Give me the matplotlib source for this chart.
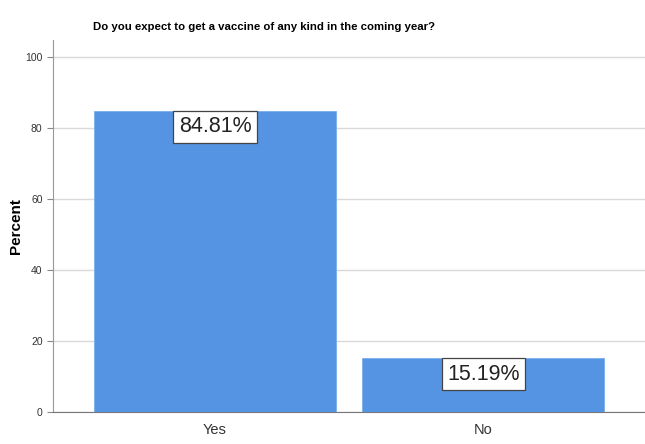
import matplotlib.pyplot as plt

categories = ['Yes', 'No']
percents = [84.81, 15.19]
labels = ['84.81%', '15.19%']
yticks = [0, 20, 40, 60, 80, 100]

plt.rcParams['font.family'] = ['Liberation Sans', 'DejaVu Sans']

fig = plt.figure(figsize=(6.45, 4.44), dpi=100)
ax = fig.add_axes([0.0822, 0.072, 0.918, 0.838])

x = range(len(categories))
ax.bar(x, percents, width=0.9, color='#5593E3', edgecolor='#7AAEEB', linewidth=0.6, zorder=3)

for xi, p, lab in zip(x, percents, labels):
    ax.annotate(lab, (xi, p), xytext=(0, -4), textcoords='offset points',
                ha='center', va='top', fontsize=15.5, color='#222222', zorder=5,
                bbox=dict(boxstyle='square,pad=0.25', fc='white', ec='#444444', lw=0.9))

ax.set_xlim(-0.604, 1.604)
ax.set_ylim(0, 104.8)
ax.set_yticks(yticks)
ax.set_xticks(list(x))
ax.set_xticklabels(categories, fontsize=10.5, color='#333333')
ax.tick_params(axis='y', labelsize=7.5, colors='#333333', length=4, color='#888888', width=0.8)
ax.tick_params(axis='x', length=0, pad=8)
ax.yaxis.grid(True, color='#d9d9d9', linewidth=1.0, zorder=0)
ax.set_axisbelow(True)

for s in ['top', 'right']:
    ax.spines[s].set_visible(False)
ax.spines['left'].set_color('#999999')
ax.spines['bottom'].set_color('#777777')

ax.set_ylabel('Percent', fontsize=11, fontweight='bold')
ax.yaxis.set_label_coords(-0.051, 0.5)
fig.text(0.41, 0.939, 'Do you expect to get a vaccine of any kind in the coming year?',
         ha='center', va='center', fontsize=8.2, fontweight='bold')

fig.savefig('out.png', dpi=100)
